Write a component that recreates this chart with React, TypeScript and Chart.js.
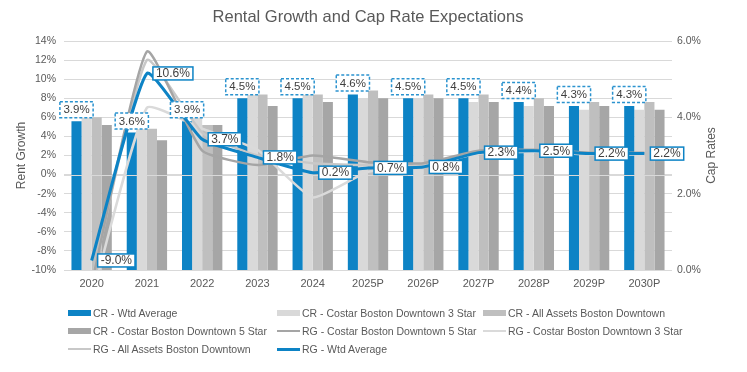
import React, { useEffect, useRef } from "react";
import { Chart, registerables } from "chart.js";

Chart.register(...registerables);

const categories = ["2020", "2021", "2022", "2023", "2024", "2025P", "2026P", "2027P", "2028P", "2029P", "2030P"];

// Cap rates (right axis, %)
const crWtdAverage = [3.9, 3.6, 3.9, 4.5, 4.5, 4.6, 4.5, 4.5, 4.4, 4.3, 4.3];
const crCostar3Star = [4.0, 3.7, 4.0, 4.6, 4.6, 4.5, 4.5, 4.4, 4.3, 4.2, 4.2];
const crAllAssets = [4.0, 3.7, 3.8, 4.6, 4.6, 4.7, 4.6, 4.6, 4.5, 4.4, 4.4];
const crCostar5Star = [3.8, 3.4, 3.8, 4.3, 4.4, 4.5, 4.5, 4.4, 4.3, 4.3, 4.2];

// Rent growth (left axis, %)
const rgCostar5Star = [-11.5, 12.9, 2.5, 1.0, 2.0, 1.3, 1.2, 2.5, 2.6, 2.3, 2.3];
const rgCostar3Star = [-13.0, 7.0, 4.8, 2.6, -2.4, 0.3, 0.9, 2.2, 2.4, 2.1, 2.1];
const rgAllAssets = [-11.2, 12.0, 4.4, 2.0, 1.2, 1.0, 1.0, 2.4, 2.5, 2.2, 2.2];
const rgWtdAverage = [-9.0, 10.6, 3.7, 1.8, 0.2, 0.7, 0.8, 2.3, 2.5, 2.2, 2.2];

const leftMin = -10;
const leftMax = 14;
const leftStep = 2;
const rightMin = 0;
const rightMax = 6;
const rightStep = 2;

const BLUE = "#0d83c5";
const TEXT = "#595959";
const FONT = '"Liberation Sans", Arial, Helvetica, sans-serif';

const legendItems = [
  { label: "CR - Wtd Average", color: BLUE, kind: "bar", col: 0, row: 0 },
  { label: "CR - Costar Boston Downtown 3 Star", color: "#d9d9d9", kind: "bar", col: 1, row: 0 },
  { label: "CR - All Assets Boston Downtown", color: "#bfbfbf", kind: "bar", col: 2, row: 0 },
  { label: "CR - Costar Boston Downtown 5 Star", color: "#a6a6a6", kind: "bar", col: 0, row: 1 },
  { label: "RG - Costar Boston Downtown 5 Star", color: "#a5a5a5", kind: "line", col: 1, row: 1 },
  { label: "RG - Costar Boston Downtown 3 Star", color: "#dadada", kind: "line", col: 2, row: 1 },
  { label: "RG - All Assets Boston Downtown", color: "#c8c8c8", kind: "line", col: 0, row: 2 },
  { label: "RG - Wtd Average", color: BLUE, kind: "line", col: 1, row: 2 },
];
const legendColX = [68, 277, 483];
const legendRowY = [313, 331, 349];

const decorPlugin = {
  id: "decor",
  afterDatasetDraw(chart: any, args: any) {
    if (args.index !== 0) return;
    const { ctx, chartArea } = chart;
    const y = chart.scales.y.getPixelForValue(0);
    ctx.save();
    ctx.strokeStyle = "#d9d9d9";
    ctx.lineWidth = 1;
    ctx.beginPath();
    ctx.moveTo(chartArea.left, Math.round(y) + 0.5);
    ctx.lineTo(chartArea.right, Math.round(y) + 0.5);
    ctx.stroke();
    ctx.restore();
  },
  afterDatasetsDraw(chart: any) {
    const { ctx, chartArea } = chart;
    ctx.save();
    // Cap rate labels (dashed boxes above blue bars)
    ctx.font = `11.5px ${FONT}`;
    ctx.textAlign = "center";
    ctx.textBaseline = "middle";
    const barMeta = chart.getDatasetMeta(0);
    barMeta.data.forEach((el: any, i: number) => {
      const text = crWtdAverage[i].toFixed(1) + "%";
      const w = ctx.measureText(text).width + 7;
      const h = 16;
      const x = el.x - w / 2;
      const y = el.y - 3.5 - h;
      ctx.fillStyle = "#ffffff";
      ctx.fillRect(x, y, w, h);
      ctx.setLineDash([3, 2]);
      ctx.strokeStyle = "#2b93cf";
      ctx.lineWidth = 1.5;
      ctx.strokeRect(x, y, w, h);
      ctx.setLineDash([]);
      ctx.fillStyle = "#404040";
      ctx.fillText(text, el.x, y + h / 2 + 0.5);
    });
    // Rent growth labels (solid boxes right of blue line points)
    ctx.font = `12px ${FONT}`;
    ctx.textAlign = "left";
    const lineMeta = chart.getDatasetMeta(7);
    lineMeta.data.forEach((pt: any, i: number) => {
      const text = rgWtdAverage[i].toFixed(1) + "%";
      const w = ctx.measureText(text).width + 6;
      const h = 13;
      const x = pt.x + 6;
      const y = pt.y - h / 2;
      ctx.fillStyle = "#ffffff";
      ctx.fillRect(x, y, w, h);
      ctx.strokeStyle = BLUE;
      ctx.lineWidth = 1.5;
      ctx.strokeRect(x, y, w, h);
      ctx.fillStyle = "#404040";
      ctx.fillText(text, x + 3, y + h / 2 + 0.5);
    });
    // Title
    ctx.font = `16.5px ${FONT}`;
    ctx.fillStyle = TEXT;
    ctx.textAlign = "center";
    ctx.fillText("Rental Growth and Cap Rate Expectations", (chartArea.left + chartArea.right) / 2, 17);
    // Right axis title, reading bottom to top
    ctx.font = `12px ${FONT}`;
    ctx.translate(712, (chartArea.top + chartArea.bottom) / 2);
    ctx.rotate(-Math.PI / 2);
    ctx.fillText("Cap Rates", 0, 0);
    ctx.restore();
  },
};

export default function App() {
  const ref = useRef<HTMLCanvasElement>(null);
  useEffect(() => {
    document.body.style.margin = "0";
    const lineDs = (label: string, data: number[], color: string, width: number, order: number) => ({
      type: "line" as const,
      label,
      data,
      yAxisID: "y",
      borderColor: color,
      backgroundColor: color,
      borderWidth: width,
      pointRadius: 0,
      tension: 0.15,
      order,
      clip: { left: 10, top: 10, right: 10, bottom: 0 },
    });
    const barDs = (label: string, data: number[], color: string) => ({
      type: "bar" as const,
      label,
      data,
      yAxisID: "y1",
      backgroundColor: color,
      borderWidth: 0,
      barPercentage: 1,
      categoryPercentage: 0.73,
      order: 10,
    });
    const chart = new Chart(ref.current!, {
      data: {
        labels: categories,
        datasets: [
          barDs("CR - Wtd Average", crWtdAverage, BLUE),
          barDs("CR - Costar Boston Downtown 3 Star", crCostar3Star, "#d9d9d9"),
          barDs("CR - All Assets Boston Downtown", crAllAssets, "#bfbfbf"),
          barDs("CR - Costar Boston Downtown 5 Star", crCostar5Star, "#a6a6a6"),
          lineDs("RG - Costar Boston Downtown 5 Star", rgCostar5Star, "#a5a5a5", 2.5, 1),
          lineDs("RG - Costar Boston Downtown 3 Star", rgCostar3Star, "#dadada", 2.5, 3),
          lineDs("RG - All Assets Boston Downtown", rgAllAssets, "#c8c8c8", 2.5, 2),
          lineDs("RG - Wtd Average", rgWtdAverage, BLUE, 3, 0),
        ],
      } as any,
      options: {
        responsive: false,
        animation: false,
        devicePixelRatio: 1,
        layout: { padding: { top: 41, bottom: 78, left: 0, right: 0 } },
        plugins: {
          legend: { display: false },
          title: { display: false },
          tooltip: { enabled: false },
        },
        scales: {
          x: {
            grid: { display: false, drawTicks: false },
            border: { display: false },
            ticks: { color: TEXT, font: { family: FONT, size: 11 }, padding: 7, maxRotation: 0 },
            afterFit: (s: any) => {
              s.height = 24;
            },
          },
          y: {
            position: "left",
            min: leftMin,
            max: leftMax,
            grid: { color: "#d9d9d9", drawTicks: false },
            border: { display: false },
            ticks: {
              stepSize: leftStep,
              color: TEXT,
              font: { family: FONT, size: 10.5 },
              padding: 8,
              callback: (v: any) => `${v}%`,
            },
            title: {
              display: true,
              text: "Rent Growth",
              color: TEXT,
              font: { family: FONT, size: 12 },
              padding: { top: 14, bottom: 0 },
            },
            afterFit: (s: any) => {
              s.width = 64;
            },
          },
          y1: {
            position: "right",
            min: rightMin,
            max: rightMax,
            grid: { display: false, drawTicks: false },
            border: { display: false },
            ticks: {
              stepSize: rightStep,
              color: TEXT,
              font: { family: FONT, size: 10.5 },
              padding: 5,
              callback: (v: any) => `${Number(v).toFixed(1)}%`,
            },
            afterFit: (s: any) => {
              s.width = 75;
            },
          },
        },
      } as any,
      plugins: [decorPlugin],
    });
    return () => chart.destroy();
  }, []);

  return (
    <div style={{ position: "relative", width: 747, height: 372, fontFamily: FONT }}>
      <canvas ref={ref} width={747} height={372} style={{ display: "block" }} />
      {legendItems.map((it) => (
        <div
          key={it.label}
          style={{
            position: "absolute",
            left: legendColX[it.col],
            top: legendRowY[it.row] - 7,
            height: 14,
            display: "flex",
            alignItems: "center",
            whiteSpace: "nowrap",
            fontSize: 10.5,
            color: TEXT,
          }}
        >
          <span
            style={{
              display: "inline-block",
              width: 23,
              height: it.kind === "bar" ? 6 : it.color === BLUE ? 3 : 2.5,
              background: it.color,
              marginRight: 2,
            }}
          />
          <span>{it.label}</span>
        </div>
      ))}
    </div>
  );
}
